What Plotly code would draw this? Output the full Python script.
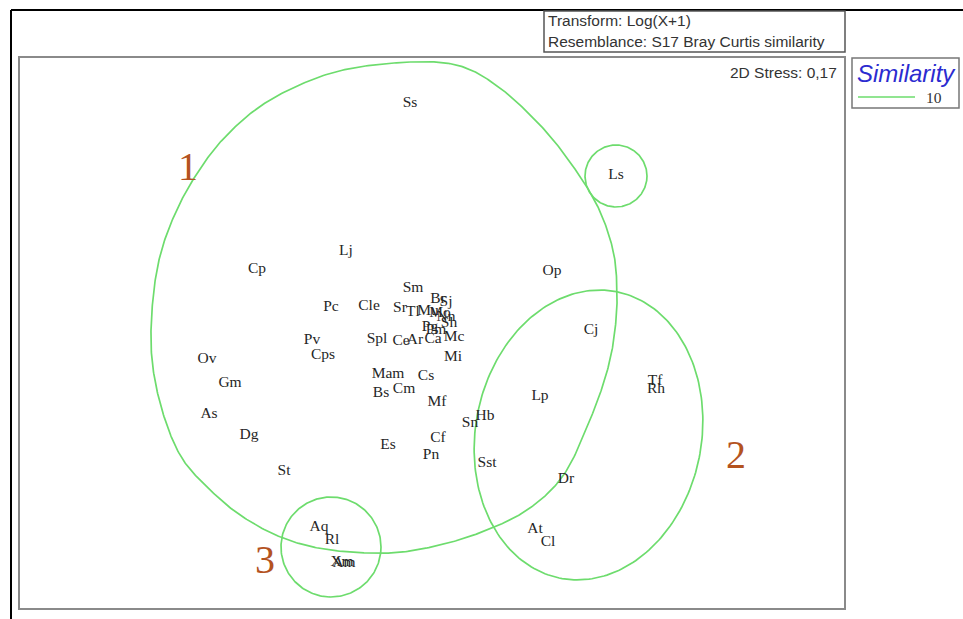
import numpy as np
import plotly.graph_objects as go

# --- MDS coordinates of species (label, x, y)
labels = ["Ss", "Ls", "Lj", "Cp", "Op", "Sm", "Pc", "Cle", "Sr", "Tl", "Br", "Sj", "Mu", "Mo",
          "Nn", "Sh", "Pg", "Pm", "Spl", "Ce", "Ar", "Ca", "Mc", "Pv", "Cps", "Mi", "Ov",
          "Mam", "Cs", "Gm", "Cm", "Bs", "Mf", "As", "Hb", "Sn", "Lp", "Cj", "Tf", "Rh",
          "Dg", "Cf", "Es", "Pn", "Sst", "St", "Dr", "At", "Cl", "Aq", "Rl", "Xm", "Am"]
mds_x = [-0.22, 1.84, -0.86, -1.75, 1.20, -0.19, -1.01, -0.63, -0.32, -0.19, 0.06, 0.14, -0.04, 0.08,
         0.14, 0.17, -0.02, 0.04, -0.55, -0.31, -0.17, 0.01, 0.22, -1.20, -1.09, 0.21, -2.25,
         -0.44, -0.06, -2.02, -0.28, -0.51, 0.05, -2.23, 0.53, 0.38, 1.08, 1.59, 2.23, 2.24,
         -1.83, 0.06, -0.44, -0.01, 0.55, -1.48, 1.34, 1.03, 1.16, -1.13, -1.00, -0.90, -0.88]
mds_y = [2.30, 1.58, 0.82, 0.64, 0.62, 0.45, 0.26, 0.27, 0.25, 0.21, 0.34, 0.31, 0.22, 0.20,
         0.16, 0.10, 0.06, 0.03, -0.06, -0.08, -0.07, -0.06, -0.04, -0.07, -0.22, -0.24, -0.26,
         -0.41, -0.43, -0.50, -0.56, -0.60, -0.69, -0.81, -0.83, -0.90, -0.63, 0.03, -0.48, -0.56,
         -1.02, -1.05, -1.12, -1.22, -1.30, -1.38, -1.46, -1.96, -2.09, -1.94, -2.07, -2.29, -2.30]

# --- similarity contours (10 %)
group1_x = [-0.22, 0.28, 0.68, 1.08, 1.38, 1.65, 1.81, 1.85, 1.83, 1.76, 1.60, 1.33, 0.98, 0.55, 0.08,
            -0.42, -1.02, -1.49, -1.92, -2.27, -2.52, -2.70, -2.80, -2.80, -2.73, -2.58, -2.36, -2.06,
            -1.62, -0.97]
group1_y = [2.71, 2.67, 2.45, 2.08, 1.71, 1.28, 0.83, 0.41, 0.03, -0.35, -0.82, -1.40, -1.75, -1.97, -2.12,
            -2.20, -2.17, -2.05, -1.82, -1.52, -1.22, -0.77, -0.27, 0.23, 0.73, 1.17, 1.58, 1.97,
            2.33, 2.61]
# group 2 contour: ellipse centre, semi-axes and tilt (degrees)
group2_cx, group2_cy = 1.565, -1.02
group2_a, group2_b, group2_tilt = 1.46, 1.13, 11.0
circle_cx = [-1.01, 1.84]
circle_cy = [-2.14, 1.57]
circle_r = [0.50, 0.31]

group_names = ["1", "2", "3"]
group_x = [-2.44, 3.04, -1.67]
group_y = [1.63, -1.25, -2.30]

GREEN = "#6ddc6d"


def closed_catmull(xs, ys, n=30):
    p = np.column_stack([xs, ys])
    m = len(p)
    out = []
    for i in range(m):
        p0, p1, p2, p3 = p[(i - 1) % m], p[i], p[(i + 1) % m], p[(i + 2) % m]
        t = np.linspace(0, 1, n, endpoint=False)[:, None]
        seg = 0.5 * ((2 * p1) + (-p0 + p2) * t + (2 * p0 - 5 * p1 + 4 * p2 - p3) * t ** 2
                     + (-p0 + 3 * p1 - 3 * p2 + p3) * t ** 3)
        out.append(seg)
    out = np.vstack(out + [p[:1]])
    return out[:, 0], out[:, 1]


fig = go.Figure()
lw = 1.7
cx, cy = closed_catmull(group1_x, group1_y)
fig.add_trace(go.Scatter(x=cx, y=cy, mode="lines", line=dict(color=GREEN, width=lw),
                         hoverinfo="skip", showlegend=False))
th = np.linspace(0, 2 * np.pi, 240)
ang = np.deg2rad(group2_tilt)
ex = group2_a * np.cos(th) * np.sin(ang) + group2_b * np.sin(th) * np.cos(ang)
ey = group2_a * np.cos(th) * np.cos(ang) - group2_b * np.sin(th) * np.sin(ang)
fig.add_trace(go.Scatter(x=group2_cx + ex, y=group2_cy + ey, mode="lines",
                         line=dict(color=GREEN, width=lw), hoverinfo="skip", showlegend=False))
for cx0, cy0, r in zip(circle_cx, circle_cy, circle_r):
    fig.add_trace(go.Scatter(x=cx0 + r * np.cos(th), y=cy0 + r * np.sin(th), mode="lines",
                             line=dict(color=GREEN, width=lw), hoverinfo="skip", showlegend=False))

fig.add_trace(go.Scatter(x=mds_x, y=mds_y, mode="text", text=labels,
                         textfont=dict(family="Liberation Serif", size=15.5, color="#262626"),
                         textposition="middle center", showlegend=False))
fig.add_trace(go.Scatter(x=group_x, y=group_y, mode="text", text=group_names,
                         textfont=dict(family="Liberation Serif", size=40, color="#b4531f"),
                         textposition="middle center", showlegend=False))

W, H = 963, 619
L, R, T, B = 19, 845, 57, 609
pw, ph = R - L, B - T


def px(x):
    return (x - L) / pw


def py(y):
    return (B - y) / ph


shapes = [
    dict(type="rect", xref="paper", yref="paper", x0=0, x1=1, y0=0, y1=1,
         line=dict(color="#8a8a8a", width=2)),
    dict(type="line", xref="paper", yref="paper", x0=px(11), x1=px(963), y0=py(10), y1=py(10),
         line=dict(color="black", width=2)),
    dict(type="line", xref="paper", yref="paper", x0=px(11), x1=px(11), y0=py(10), y1=py(619),
         line=dict(color="black", width=2)),
    dict(type="rect", xref="paper", yref="paper", x0=px(544), x1=px(845), y0=py(52), y1=py(11),
         line=dict(color="#555", width=1.5)),
    dict(type="rect", xref="paper", yref="paper", x0=px(852), x1=px(959), y0=py(108), y1=py(58),
         line=dict(color="#777", width=1.5)),
    dict(type="line", xref="paper", yref="paper", x0=px(858), x1=px(915), y0=py(97), y1=py(97),
         line=dict(color=GREEN, width=lw)),
]

sans = dict(family="Liberation Sans", size=15.5, color="#333")
annotations = [
    dict(text="Transform: Log(X+1)", x=px(546), y=py(21), xanchor="left", yanchor="middle", font=sans),
    dict(text="Resemblance: S17 Bray Curtis similarity", x=px(546), y=py(41), xanchor="left",
         yanchor="middle", font=sans),
    dict(text="2D Stress: 0,17", x=px(839), y=py(72), xanchor="right", yanchor="middle", font=sans),
    dict(text="<i>Similarity</i>", x=px(906), y=py(73), xanchor="center", yanchor="middle",
         font=dict(family="Liberation Sans", size=24, color="#2b2bd0")),
    dict(text="10", x=px(934), y=py(97), xanchor="center", yanchor="middle",
         font=dict(family="Liberation Serif", size=15.5, color="#333")),
]
for a in annotations:
    a.update(xref="paper", yref="paper", showarrow=False)

xr = [(L - 432) / 100, (R - 432) / 100]
yr = [(333 - B) / 100, (333 - T) / 100]
fig.update_layout(
    width=W, height=H, autosize=False,
    margin=dict(l=L, r=W - R, t=T, b=H - B, pad=0),
    paper_bgcolor="white", plot_bgcolor="white",
    xaxis=dict(range=xr, visible=False, fixedrange=True),
    yaxis=dict(range=yr, visible=False, fixedrange=True),
    shapes=shapes, annotations=annotations, showlegend=False,
)
fig.write_html("out.html", config={"displayModeBar": False},
               post_script="document.body.style.margin='0px';document.body.style.overflow='hidden';")
